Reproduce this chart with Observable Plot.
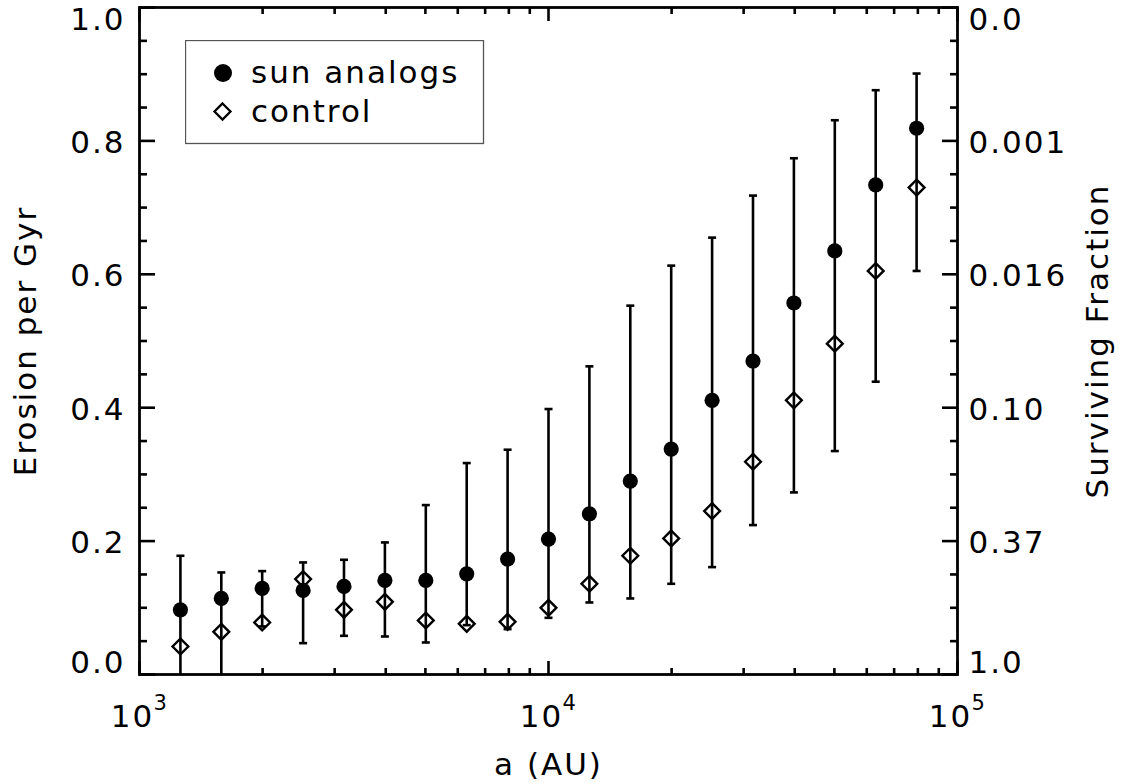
<!DOCTYPE html>
<html>
<head>
<meta charset="utf-8">
<script src="https://cdn.jsdelivr.net/npm/d3@7"></script>
<script src="https://cdn.jsdelivr.net/npm/@observablehq/plot@0.6"></script>
<style>
  html, body { margin: 0; padding: 0; background: #fff; }
  #wrap { position: relative; width: 1125px; height: 784px; font-family: "DejaVu Sans", sans-serif; }
  #legend { position: absolute; left: 185px; top: 40px; }
</style>
</head>
<body>
<div id="wrap"></div>
<script>
// ---- data ----
const semiMajorAU = [1259, 1585, 1995, 2512, 3162, 3981, 5012, 6310, 7943, 10000,
                     12589, 15849, 19953, 25119, 31623, 39811, 50119, 63096, 79433];
const sunAnalogs = [0.097, 0.114, 0.129, 0.126, 0.132, 0.141, 0.141, 0.151, 0.173, 0.203,
                    0.241, 0.290, 0.338, 0.411, 0.470, 0.557, 0.635, 0.734, 0.819];
const control    = [0.042, 0.064, 0.078, 0.143, 0.097, 0.109, 0.081, 0.076, 0.079, 0.100,
                    0.136, 0.178, 0.204, 0.245, 0.319, 0.411, 0.496, 0.605, 0.730];
const errHigh    = [0.178, 0.153, 0.155, 0.168, 0.172, 0.198, 0.254, 0.317, 0.337, 0.398,
                    0.462, 0.553, 0.613, 0.655, 0.718, 0.774, 0.831, 0.876, 0.901];
const errLow     = [-0.05, -0.05, 0.072, 0.047, 0.058, 0.057, 0.048, 0.074, 0.068, 0.085,
                    0.108, 0.114, 0.136, 0.161, 0.224, 0.273, 0.335, 0.439, 0.605];

const xMajorTicks = [1e3, 1e4, 1e5];
const xMajorExp = ["3", "4", "5"];
const xMinorTicks = [2e3, 3e3, 4e3, 5e3, 6e3, 7e3, 8e3, 9e3, 2e4, 3e4, 4e4, 5e4, 6e4, 7e4, 8e4, 9e4];
const yMajorTicks = [0, 0.2, 0.4, 0.6, 0.8, 1.0];
const yLeftLabels = ["0.0", "0.2", "0.4", "0.6", "0.8", "1.0"];
const yRightLabels = ["1.0", "0.37", "0.10", "0.016", "0.001", "0.0"];
const yMinorTicks = [0.05, 0.1, 0.15, 0.25, 0.3, 0.35, 0.45, 0.5, 0.55, 0.65, 0.7, 0.75, 0.85, 0.9, 0.95];

const rows = semiMajorAU.map((a, i) => ({a, sun: sunAnalogs[i], ctl: control[i], hi: errHigh[i], lo: errLow[i]}));
const yTickRows = yMajorTicks.map((v, i) => ({v, left: yLeftLabels[i], right: yRightLabels[i]}));
const midTicks = yTickRows.filter(d => d.v > 0 && d.v < 1);
const topTick = yTickRows.filter(d => d.v === 1);
const botTick = yTickRows.filter(d => d.v === 0);
const xLab = xMajorTicks.map((v, i) => ({v, e: xMajorExp[i]}));

const capSymbol = { draw(ctx) { ctx.moveTo(-4, 0); ctx.lineTo(4, 0); } };
const F = 31;
const SW = 2.6;

const chart = Plot.plot({
  width: 1125,
  height: 784,
  marginLeft: 139,
  marginRight: 168,
  marginTop: 7,
  marginBottom: 110,
  style: { fontFamily: "DejaVu Sans, sans-serif", fontSize: F + "px", color: "#000", background: "#fff", letterSpacing: "2px" },
  x: { type: "log", domain: [1e3, 1e5] },
  y: { domain: [0, 1] },
  marks: [
    // error bars
    Plot.ruleX(rows, { x: "a", y1: "lo", y2: "hi", stroke: "#000", strokeWidth: SW, clip: true }),
    Plot.dot(rows.filter(d => d.lo > 0), { x: "a", y: "lo", symbol: capSymbol, stroke: "#000", strokeWidth: SW, r: 4 }),
    Plot.dot(rows, { x: "a", y: "hi", symbol: capSymbol, stroke: "#000", strokeWidth: SW, r: 4 }),
    // control (open diamonds)
    Plot.dot(rows, { x: "a", y: "ctl", symbol: "diamond2", r: 7.1, fill: "none", stroke: "#000", strokeWidth: 2.4 }),
    // sun analogs (filled circles)
    Plot.dot(rows, { x: "a", y: "sun", r: 7.6, fill: "#000", stroke: "none" }),
    // inward ticks
    Plot.axisX({ anchor: "bottom", ticks: xMajorTicks, tickSize: -13, tickFormat: () => "", label: null, strokeWidth: SW }),
    Plot.axisX({ anchor: "bottom", ticks: xMinorTicks, tickSize: -6, tickFormat: () => "", label: null, strokeWidth: SW }),
    Plot.axisX({ anchor: "top", ticks: xMajorTicks, tickSize: -13, tickFormat: () => "", label: null, strokeWidth: SW }),
    Plot.axisX({ anchor: "top", ticks: xMinorTicks, tickSize: -6, tickFormat: () => "", label: null, strokeWidth: SW }),
    Plot.axisY({ anchor: "left", ticks: yMajorTicks, tickSize: -16, tickFormat: () => "", label: null, strokeWidth: SW }),
    Plot.axisY({ anchor: "left", ticks: yMinorTicks, tickSize: -8, tickFormat: () => "", label: null, strokeWidth: SW }),
    Plot.axisY({ anchor: "right", ticks: yMajorTicks, tickSize: -16, tickFormat: () => "", label: null, strokeWidth: SW }),
    Plot.axisY({ anchor: "right", ticks: yMinorTicks, tickSize: -8, tickFormat: () => "", label: null, strokeWidth: SW }),
    Plot.frame({ stroke: "#000", strokeWidth: 2.8 }),
    // y tick labels (left)
    Plot.text(midTicks, { y: "v", text: "left", frameAnchor: "left", textAnchor: "end", lineAnchor: "middle", dx: -14, dy: 2, fontSize: F }),
    Plot.text(topTick, { y: "v", text: "left", frameAnchor: "left", textAnchor: "end", lineAnchor: "middle", dx: -14, dy: 13, fontSize: F }),
    Plot.text(botTick, { y: "v", text: "left", frameAnchor: "left", textAnchor: "end", lineAnchor: "middle", dx: -14, dy: -11, fontSize: F }),
    // y tick labels (right)
    Plot.text(midTicks, { y: "v", text: "right", frameAnchor: "right", textAnchor: "start", lineAnchor: "middle", dx: 11, dy: 2, fontSize: F }),
    Plot.text(topTick, { y: "v", text: "right", frameAnchor: "right", textAnchor: "start", lineAnchor: "middle", dx: 11, dy: 13, fontSize: F }),
    Plot.text(botTick, { y: "v", text: "right", frameAnchor: "right", textAnchor: "start", lineAnchor: "middle", dx: 11, dy: -11, fontSize: F }),
    // x tick labels 10^n
    Plot.text(xLab, { x: "v", text: () => "10", frameAnchor: "bottom", textAnchor: "middle", lineAnchor: "middle", dx: -7, dy: 43, fontSize: F }),
    Plot.text(xLab, { x: "v", text: "e", frameAnchor: "bottom", textAnchor: "start", lineAnchor: "middle", dx: 14, dy: 29, fontSize: 21 }),
    // axis titles
    Plot.text(["a (AU)"], { frameAnchor: "bottom", text: d => d, textAnchor: "middle", lineAnchor: "middle", dy: 91, fontSize: F }),
    Plot.text(["Erosion per Gyr"], { frameAnchor: "left", text: d => d, rotate: -90, textAnchor: "middle", lineAnchor: "middle", dx: -113, fontSize: F }),
    Plot.text(["Surviving Fraction"], { frameAnchor: "right", text: d => d, rotate: -90, textAnchor: "middle", lineAnchor: "middle", dx: 141, fontSize: F })
  ]
});

const wrap = document.getElementById("wrap");
wrap.appendChild(chart);

// legend (inside the plot area, as in the reference)
const legend = document.createElement("div");
legend.id = "legend";
legend.innerHTML = `
<svg width="300" height="105" style="font-family:'DejaVu Sans',sans-serif;font-size:${F}px;letter-spacing:2px;display:block">
  <rect x="0.5" y="0.5" width="298" height="103" fill="#fff" stroke="#555" stroke-width="1.3"/>
  <circle cx="38" cy="33" r="9" fill="#000"/>
  <path d="M37.5,63.5 L45.5,71.5 L37.5,79.5 L29.5,71.5 Z" fill="none" stroke="#000" stroke-width="2.3"/>
  <text x="66" y="43">sun analogs</text>
  <text x="66" y="82">control</text>
</svg>`;
wrap.appendChild(legend);
</script>
</body>
</html>
